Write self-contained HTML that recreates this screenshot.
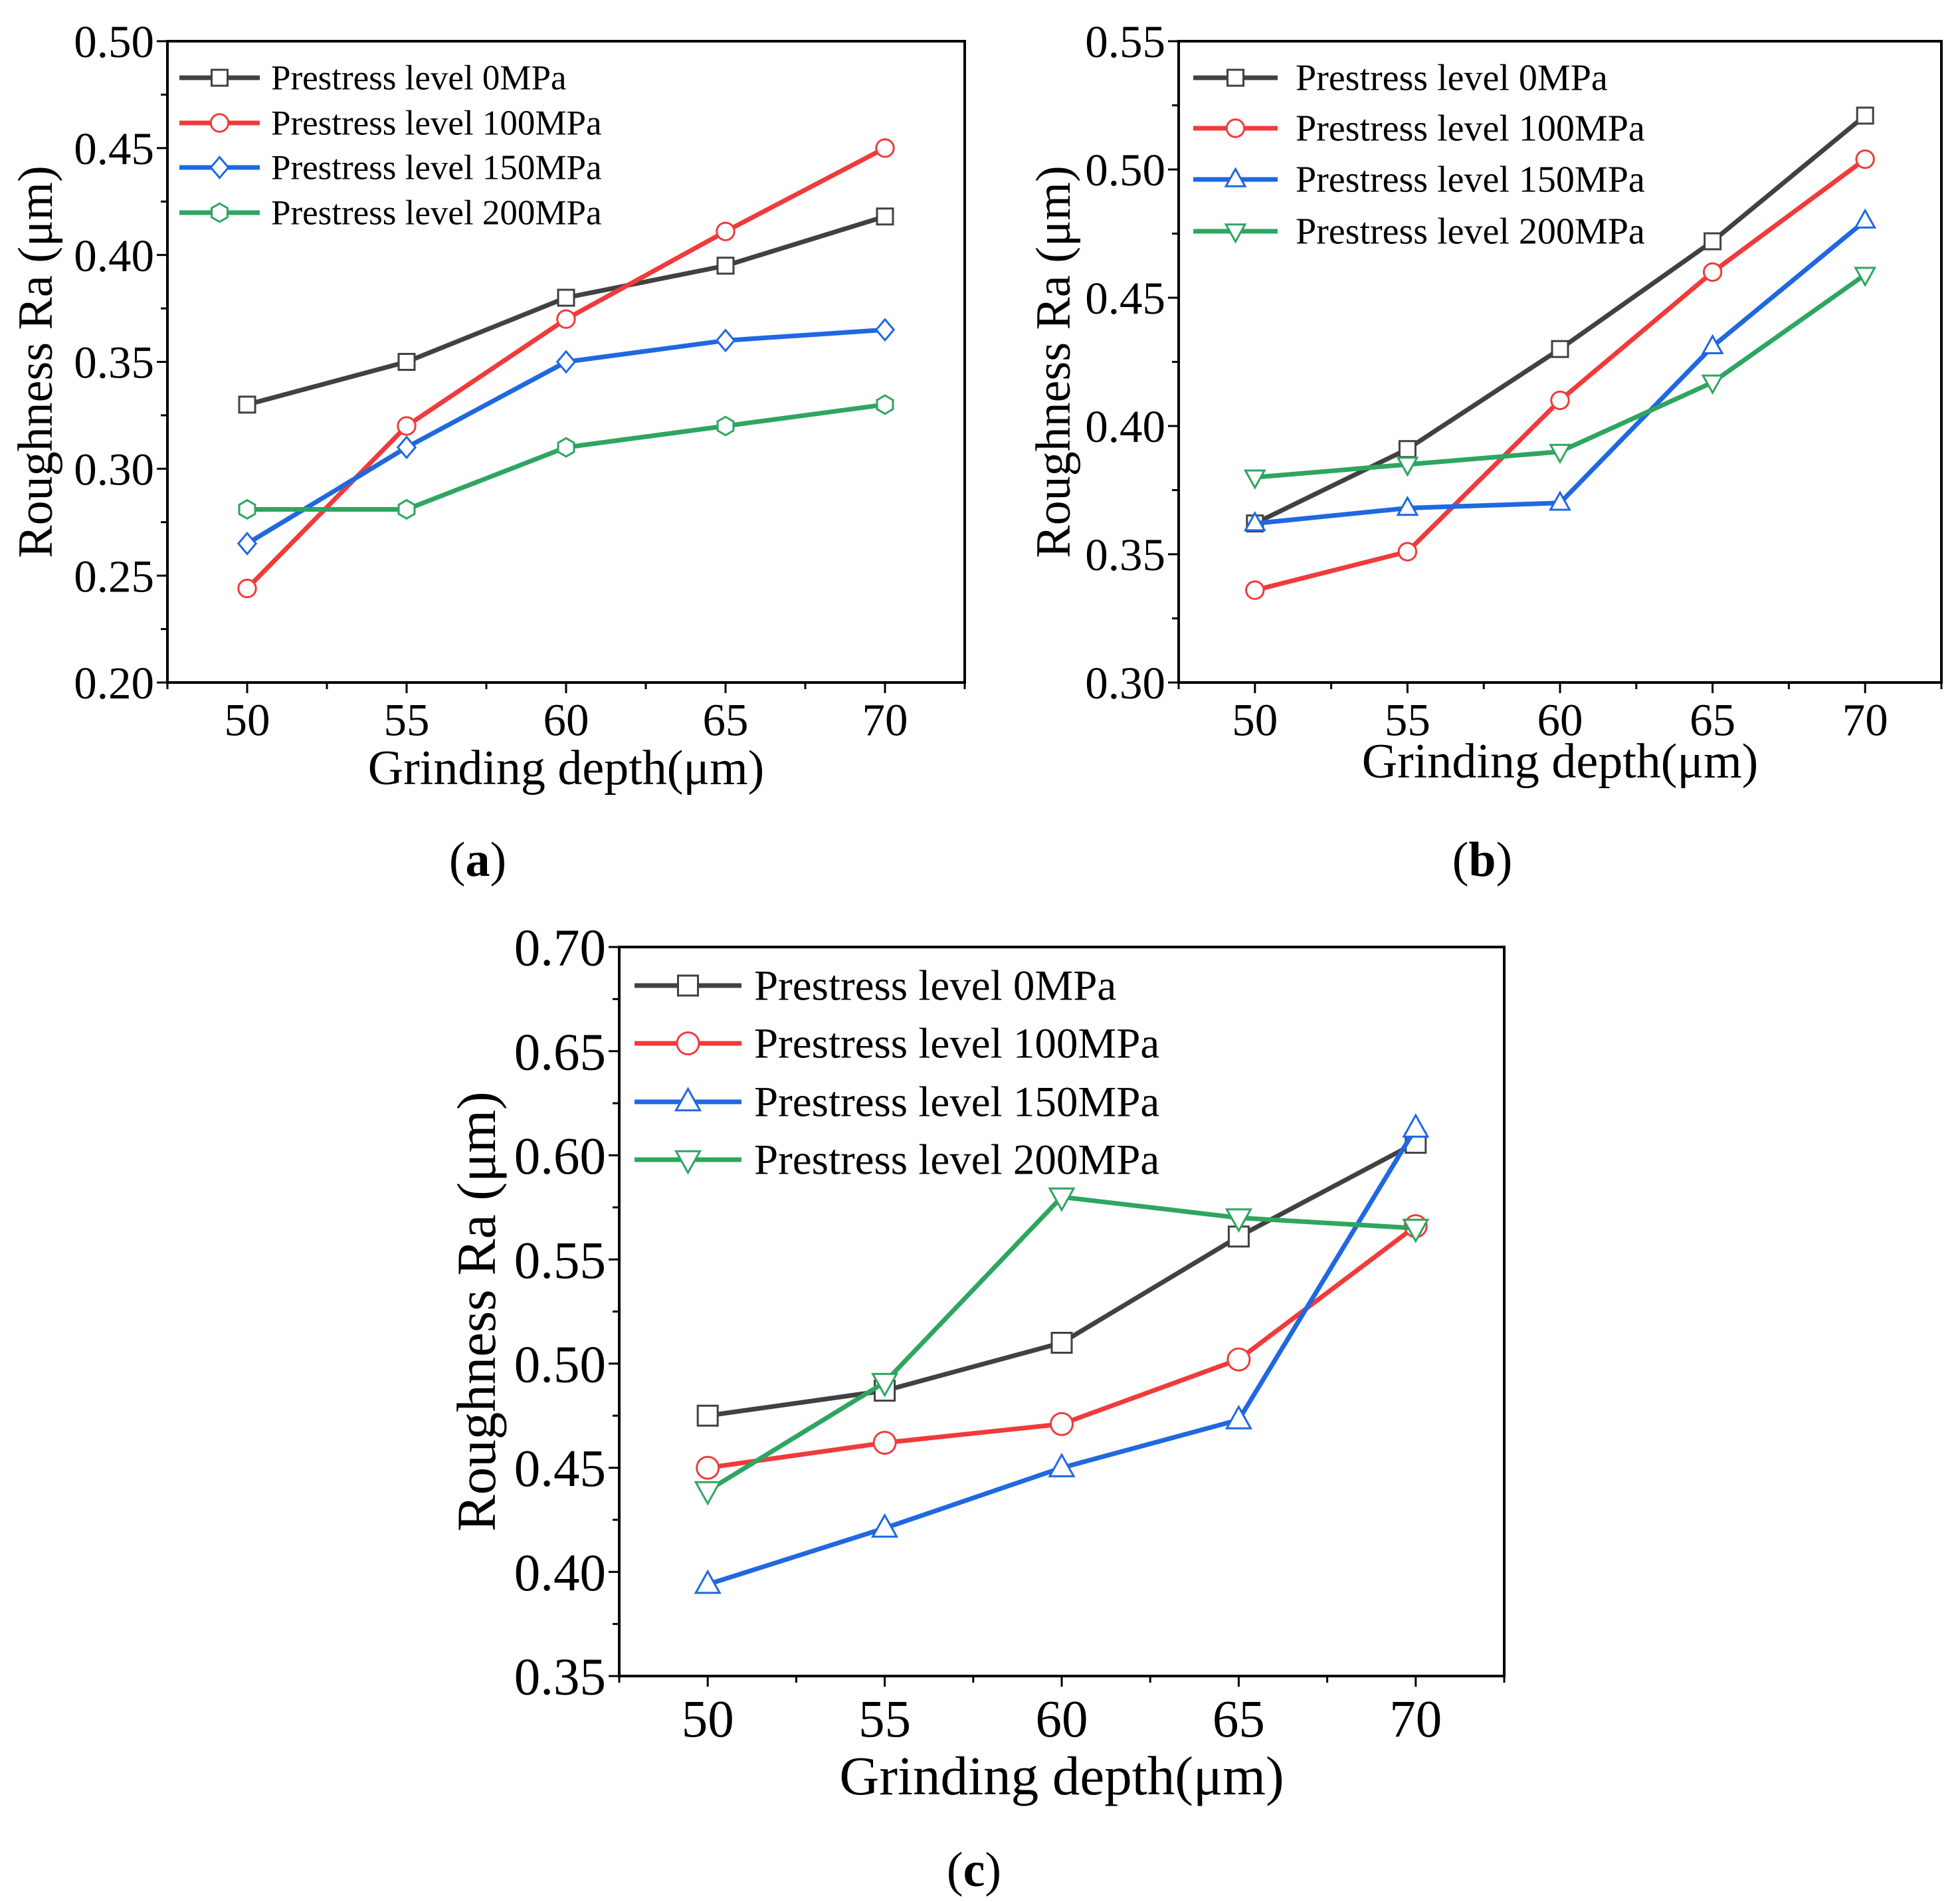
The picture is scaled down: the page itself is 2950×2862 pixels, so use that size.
<!DOCTYPE html>
<html><head><meta charset="utf-8"><style>
html,body{margin:0;padding:0;background:#fff}
svg{display:block}
text{font-family:"Liberation Serif",serif;fill:#000}
</style></head><body>
<svg id="fig" width="2950" height="2862" viewBox="0 0 2950 2862" xmlns="http://www.w3.org/2000/svg"></svg>
<script>
const xCategories=[50,55,60,65,70];
const seriesNames=["Prestress level 0MPa","Prestress level 100MPa","Prestress level 150MPa","Prestress level 200MPa"];
const aS0=[0.33,0.35,0.38,0.395,0.418];
const aS100=[0.244,0.32,0.37,0.411,0.45];
const aS150=[0.265,0.31,0.35,0.36,0.365];
const aS200=[0.281,0.281,0.31,0.32,0.33];
const bS0=[0.362,0.391,0.43,0.472,0.521];
const bS100=[0.336,0.351,0.41,0.46,0.504];
const bS150=[0.362,0.368,0.37,0.431,0.48];
const bS200=[0.38,0.385,0.39,0.417,0.459];
const cS0=[0.475,0.487,0.51,0.561,0.606];
const cS100=[0.45,0.462,0.471,0.502,0.566];
const cS150=[0.394,0.421,0.45,0.473,0.613];
const cS200=[0.439,0.491,0.58,0.57,0.565];
const aYTicks=["0.20","0.25","0.30","0.35","0.40","0.45","0.50"];
const bYTicks=["0.30","0.35","0.40","0.45","0.50","0.55"];
const cYTicks=["0.35","0.40","0.45","0.50","0.55","0.60","0.65","0.70"];

const colors=["#414141","#ef3b3b","#1f68e0","#2ea561"];
const NS="http://www.w3.org/2000/svg";
const svg=document.getElementById('fig');
function mk(tag,attrs,parent){const e=document.createElementNS(NS,tag);for(const k in attrs)e.setAttribute(k,attrs[k]);(parent||svg).appendChild(e);return e;}

function marker(g,type,cx,cy,col,r){
  let e;
  if(type==='square'){e=mk('rect',{x:cx-r,y:cy-r,width:2*r,height:2*r},g);}
  else if(type==='circle'){e=mk('circle',{cx:cx,cy:cy,r:r*1.1},g);}
  else{
    let pts;
    if(type==='diamond')pts=[[0,-1.3],[1.1,0],[0,1.3],[-1.1,0]];
    else if(type==='hex'){pts=[];for(let i=0;i<6;i++){const a=Math.PI/6+i*Math.PI/3;pts.push([Math.cos(a)*1.15,Math.sin(a)*1.15]);}}
    else if(type==='up')pts=[[0,-1.3],[1.2,0.85],[-1.2,0.85]];
    else pts=[[0,1.3],[1.2,-0.85],[-1.2,-0.85]];
    e=mk('polygon',{points:pts.map(p=>(cx+p[0]*r)+','+(cy+p[1]*r)).join(' ')},g);
  }
  e.setAttribute('fill','#fff');e.setAttribute('stroke',col);e.setAttribute('stroke-width',3);
  return e;
}

function panel(p){
  const g=mk('g',{});
  
  
  const X=v=>p.left+(v-47.5)/25*(p.right-p.left);
  const ymin=parseFloat(p.yTicks[0]),ymax=parseFloat(p.yTicks[p.yTicks.length-1]);
  const Y=v=>p.bottom-(v-ymin)/(ymax-ymin)*(p.bottom-p.top);
  const fr=mk('rect',{x:p.left,y:p.top,width:p.right-p.left,height:p.bottom-p.top,fill:'none',stroke:'#000','stroke-width':4},g);
  
  for(let v=47.5;v<=72.51;v+=2.5){
    const major=Math.abs((v-50)%5)<0.01&&v>=50&&v<=70;
    mk('line',{x1:X(v),x2:X(v),y1:p.bottom,y2:p.bottom+(major?16:10),stroke:'#000','stroke-width':3},g);
  }
  xCategories.forEach(c=>{
    const t=mk('text',{x:X(c),y:p.bottom+p.fs*1.15,'text-anchor':'middle','font-size':p.fs},g);
    t.textContent=c;
  });
  const step=parseFloat(p.yTicks[1])-ymin;
  for(let i=0;i<p.yTicks.length;i++){
    const v=ymin+i*step;
    mk('line',{x1:p.left-16,x2:p.left,y1:Y(v),y2:Y(v),stroke:'#000','stroke-width':3},g);
    if(i<p.yTicks.length-1)mk('line',{x1:p.left-10,x2:p.left,y1:Y(v+step/2),y2:Y(v+step/2),stroke:'#000','stroke-width':3},g);
    const t=mk('text',{x:p.left-20,y:Y(v)+p.fs*0.35,'text-anchor':'end','font-size':p.fs},g);
    t.textContent=p.yTicks[i];
  }
  const xt=mk('text',{x:(p.left+p.right)/2,y:p.xTitleY,'text-anchor':'middle','font-size':p.tfs},g);
  xt.textContent='Grinding depth(μm)';
  const yt=mk('text',{x:0,y:0,'text-anchor':'middle','font-size':p.tfs,transform:`translate(${p.yTitleX},${(p.top+p.bottom)/2}) rotate(-90)`},g);
  yt.textContent='Roughness Ra (μm)';
  p.series.forEach((s,i)=>{
    const sg=mk('g',{},g);
    
    
    mk('polyline',{points:s.map((v,j)=>X(xCategories[j])+','+Y(v)).join(' '),fill:'none',stroke:colors[i],'stroke-width':7,'stroke-linejoin':'round'},sg);
    s.forEach((v,j)=>{const m=marker(sg,p.markers[i],X(xCategories[j]),Y(v),colors[i],p.mr);
      });
  });
  const lg=mk('g',{},g);
  
  seriesNames.forEach((n,i)=>{
    const y=p.legRows[i];
    const eg=mk('g',{},lg);
    
    mk('line',{x1:p.legX1,x2:p.legX2,y1:y,y2:y,stroke:colors[i],'stroke-width':7},eg);
    marker(eg,p.markers[i],(p.legX1+p.legX2)/2,y,colors[i],p.mr);
    const t=mk('text',{x:p.legText,y:y+p.lfs*0.33,'font-size':p.lfs},eg);
    t.textContent=n;
  });
  const lb=mk('text',{x:p.labX,y:p.labY,'text-anchor':'middle','font-size':74},g);
  lb.innerHTML='(<tspan font-weight="bold">'+p.lab+'</tspan>)';
  
}

panel({name:'chart-a',left:252,right:1452,top:62,bottom:1027,yTicks:aYTicks,series:[aS0,aS100,aS150,aS200],
 markers:['square','circle','diamond','hex'],fs:69,tfs:74,lfs:53,mr:12,xTitleY:1180,yTitleX:78,
 legX1:270,legX2:391,legText:408,legRows:[117,185,252,320],lab:'a',labX:719,labY:1318});
panel({name:'chart-b',left:1774,right:2922,top:62,bottom:1027,yTicks:bYTicks,series:[bS0,bS100,bS150,bS200],
 markers:['square','circle','up','down'],fs:69,tfs:74,lfs:56,mr:12,xTitleY:1170,yTitleX:1610,
 legX1:1796,legX2:1923,legText:1950,legRows:[117,193,270,348],lab:'b',labX:2231,labY:1318});
panel({name:'chart-c',left:932,right:2264,top:1425,bottom:2522,yTicks:cYTicks,series:[cS0,cS100,cS150,cS200],
 markers:['square','circle','up','down'],fs:79,tfs:83,lfs:65,mr:15,xTitleY:2700,yTitleX:745,
 legX1:955,legX2:1116,legText:1135,legRows:[1483,1570,1658,1745],lab:'c',labX:1466,labY:2838});
</script>
</body></html>
